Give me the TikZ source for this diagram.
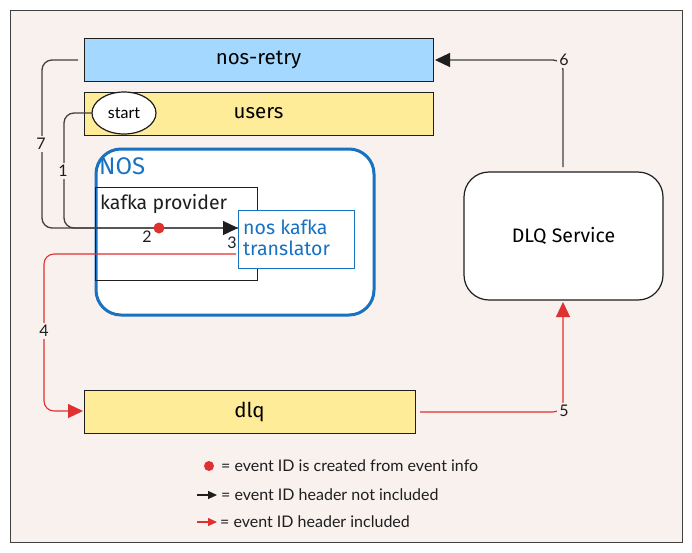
\documentclass[tikz,border=0pt]{standalone}
\usepackage{fontspec}
\setmainfont{Lato}
\newfontfamily\handfont{Fira Sans}
\usetikzlibrary{arrows.meta,shapes.geometric}
\definecolor{bgc}{HTML}{F8F1EE}
\definecolor{redc}{HTML}{E03131}
\definecolor{bluec}{HTML}{1971C2}
\definecolor{lblue}{HTML}{A5D8FF}
\definecolor{lyellow}{HTML}{FFEC99}
\definecolor{linec}{HTML}{1E1E1E}
\tikzset{
  bar/.style={draw=linec, line width=1pt, minimum width=349pt, minimum height=43pt, inner sep=0pt, font=\handfont\fontsize{20.5}{22}\selectfont},
  conn/.style={draw=linec!85, line width=1.3pt, rounded corners=10pt},
  rconn/.style={draw=redc, line width=1.1pt, rounded corners=10pt},
  blackhead/.style={-{Triangle[length=15pt,width=14pt,color=linec]}},
  redhead/.style={-{Triangle[length=15pt,width=14pt]}},
  numlbl/.style={fill=bgc, inner sep=2pt, font=\fontsize{16}{18}\selectfont, text=linec},
  leg/.style={anchor=west, font=\fontsize{16}{18}\selectfont, text=linec, inner sep=0pt},
}
\begin{document}
\begin{tikzpicture}[x=1pt,y=-1pt]
\useasboundingbox (0,0) rectangle (692,552);
\fill[white] (0,0) rectangle (692,552);
\draw[draw=linec!85, fill=bgc, line width=1pt] (10,10) rectangle (682,542);

% bars
\node[bar, fill=lblue] (retry) at (258.5,59.5) {nos-retry};
\node[bar, fill=lyellow] (users) at (258.5,113.5) {users};
\node[bar, fill=lyellow, minimum width=331pt] (dlq) at (249.5,411.5) {dlq};
\node[draw=linec, fill=white, ellipse, line width=1.2pt, minimum width=64pt, minimum height=42pt, inner sep=0pt, font=\fontsize{16}{18}\selectfont] (start) at (124,113) {start};

% NOS container
\node[draw=bluec, line width=3pt, fill=white, rounded corners=25pt, minimum width=278pt, minimum height=166pt] (nos) at (235,232) {};
\node[anchor=west, text=bluec, font=\handfont\fontsize{24}{26}\selectfont, inner sep=0pt] (noslbl) at (99,166) {NOS};

% kafka provider
\node[draw=linec, line width=1pt, minimum width=162pt, minimum height=93pt, inner sep=0pt] (kp) at (176,233.5) {};
\node[anchor=west, font=\handfont\fontsize{19.5}{21}\selectfont, inner sep=0pt, text=linec] (kplbl) at (100,204) {kafka provider};

% translator
\node[draw=bluec, line width=1pt, fill=white, minimum width=116pt, minimum height=58pt, inner sep=0pt] (tr) at (296,239) {};
\node[anchor=west, align=left, text=bluec, font=\handfont\fontsize{19.5}{21}\selectfont, inner sep=0pt] (trlbl) at (243,238) {nos kafka\\translator};

% DLQ service
\node[draw=linec, line width=1.2pt, fill=white, rounded corners=25pt, minimum width=199pt, minimum height=128pt, font=\handfont\fontsize{19.5}{21}\selectfont] (dlqs) at (563.5,236) {DLQ Service};

% coordinates
\coordinate (c7s) at (78,60);
\coordinate (c1s) at (92,113);
\coordinate (trin) at (238,228);
\coordinate (trout) at (236,254);
\coordinate (dlqin) at (83,411);
\coordinate (dlqout) at (420,412);
\coordinate (dlqsin) at (563,302);
\coordinate (dlqsout) at (563,167);
\coordinate (retryin) at (435,60);

% black connectors
\draw[conn] (c7s) -- (42,60) -- (42,228) -- (trin);
\draw[conn, blackhead] (c1s) -- (64,113) -- (64,228) -- (trin);
\draw[conn, blackhead] (dlqsout) -- (563,60) -- (retryin);

% red connectors
\draw[rconn, redhead] (trout) -- (44,254) -- (44,411) -- (dlqin);
\draw[rconn, redhead] (dlqout) -- (563,412) -- (dlqsin);

% red dot
\fill[redc] (159,228) circle (5.5pt);
\node[font=\fontsize{16}{18}\selectfont, text=linec, inner sep=0pt] (l2) at (147,237) {2};
\node[font=\fontsize{16}{18}\selectfont, text=linec, inner sep=0pt] (l3) at (232,243) {3};

% number labels
\node[numlbl] (l7) at (41,144) {7};
\node[numlbl] (l1) at (63,171) {1};
\node[numlbl] (l4) at (44,331) {4};
\node[numlbl] (l5) at (564,411) {5};
\node[numlbl] (l6) at (564,60) {6};

% legend
\fill[redc] (209,466) circle (5pt);
\node[leg] (lg1) at (221,466) {= event ID is created from event info};
\coordinate (a1s) at (197,495);
\coordinate (a1e) at (217,495);
\draw[draw=linec, line width=1.2pt, -{Triangle[length=9pt,width=8pt]}] (a1s) -- (a1e);
\node[leg] (lg2) at (221,495) {= event ID header not included};
\coordinate (a2s) at (197,522);
\coordinate (a2e) at (217,522);
\draw[draw=redc, line width=1.2pt, -{Triangle[length=9pt,width=8pt]}, redc] (a2s) -- (a2e);
\node[leg] (lg3) at (220,522) {= event ID header included};
\end{tikzpicture}
\end{document}
